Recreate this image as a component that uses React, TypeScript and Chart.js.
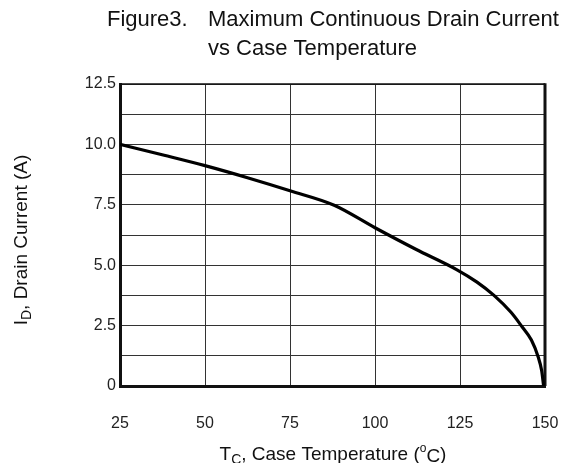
import { useEffect, useRef } from 'react';
import { Chart, registerables } from 'chart.js';

Chart.register(...registerables);

// Data
const caseTemperatureC = [25, 38, 50, 62.5, 75, 88, 100, 112, 124, 130, 135, 140, 143, 146, 148, 149, 149.6];
const drainCurrentA = [10.0, 9.55, 9.12, 8.62, 8.08, 7.48, 6.55, 5.66, 4.82, 4.3, 3.75, 3.05, 2.5, 1.9, 1.2, 0.65, 0];

const xTickValues = [25, 50, 75, 100, 125, 150];
const yTickValues = [0, 2.5, 5, 7.5, 10, 12.5];
const yTickLabels = ['0', '2.5', '5.0', '7.5', '10.0', '12.5'];

const FONT = "'Liberation Sans', Arial, sans-serif";

type Seg = { t: string; size: number; dy: number };

function drawRich(ctx: CanvasRenderingContext2D, segs: Seg[], x: number, y: number) {
  let cx = x;
  for (const s of segs) {
    ctx.font = `${s.size}px ${FONT}`;
    ctx.fillText(s.t, cx, y + s.dy);
    cx += ctx.measureText(s.t).width;
  }
}
function richWidth(ctx: CanvasRenderingContext2D, segs: Seg[]) {
  let w = 0;
  for (const s of segs) {
    ctx.font = `${s.size}px ${FONT}`;
    w += ctx.measureText(s.t).width;
  }
  return w;
}

const decorPlugin = {
  id: 'decor',
  beforeDatasetsDraw(chart: any) {
    const { ctx, chartArea: a } = chart;
    ctx.save();
    ctx.strokeStyle = '#111';
    ctx.lineWidth = 1.5;
    ctx.beginPath();
    ctx.moveTo(a.left, a.top);
    ctx.lineTo(a.right, a.top);
    ctx.stroke();
    ctx.lineWidth = 3;
    ctx.beginPath();
    ctx.moveTo(a.right, a.top - 0.75);
    ctx.lineTo(a.right, a.bottom);
    ctx.stroke();
    ctx.restore();
  },
  afterDraw(chart: any) {
    const { ctx } = chart;
    ctx.save();
    ctx.fillStyle = '#111';
    ctx.textBaseline = 'alphabetic';
    ctx.textAlign = 'left';
    // Title
    ctx.font = `22px ${FONT}`;
    ctx.fillText('Figure3.', 107, 26);
    ctx.fillText('Maximum Continuous Drain Current', 208, 26);
    ctx.fillText('vs Case Temperature', 208, 55);

    // X axis title
    const xSegs: Seg[] = [
      { t: 'T', size: 19, dy: 0 },
      { t: 'C', size: 14, dy: 4 },
      { t: ', Case Temperature (', size: 19, dy: 0 },
      { t: 'o', size: 12, dy: -8 },
      { t: 'C', size: 19, dy: 2 },
      { t: ')', size: 19, dy: 0 },
    ];
    const xw = richWidth(ctx, xSegs);
    drawRich(ctx, xSegs, 333 - xw / 2, 460);

    // Y axis title
    const ySegs: Seg[] = [
      { t: 'I', size: 19, dy: 0 },
      { t: 'D', size: 14, dy: 4 },
      { t: ', Drain Current (A)', size: 19, dy: 0 },
    ];
    const yw = richWidth(ctx, ySegs);
    ctx.translate(27, 240);
    ctx.rotate(-Math.PI / 2);
    drawRich(ctx, ySegs, -yw / 2, 0);
    ctx.restore();
  },
};

export default function App() {
  const ref = useRef<HTMLCanvasElement | null>(null);
  useEffect(() => {
    if (!ref.current) return;
    const chart = new Chart(ref.current, {
      type: 'line',
      data: {
        datasets: [
          {
            data: caseTemperatureC.map((t, i) => ({ x: t, y: drainCurrentA[i] })),
            borderColor: '#000',
            borderWidth: 3.2,
            pointRadius: 0,
            fill: false,
            cubicInterpolationMode: 'monotone',
          },
        ],
      },
      options: {
        animation: false,
        responsive: false,
        layout: { padding: { top: 84, right: 29, left: 0, bottom: 0 } },
        plugins: { legend: { display: false }, tooltip: { enabled: false }, title: { display: false } },
        scales: {
          x: {
            type: 'linear',
            min: 25,
            max: 150,
            afterBuildTicks: (s: any) => {
              s.ticks = xTickValues.map((v) => ({ value: v }));
            },
            afterFit: (s: any) => {
              s.height = 77;
              s.paddingLeft = 0;
              s.paddingRight = 0;
            },
            grid: { color: '#333', lineWidth: 1, drawTicks: false },
            border: { color: '#111', width: 3 },
            ticks: {
              padding: 28,
              color: '#222',
              font: { family: FONT, size: 16 },
              maxRotation: 0,
              callback: (v: any) => String(v),
            },
          },
          y: {
            type: 'linear',
            min: 0,
            max: 12.5,
            ticks: {
              stepSize: 1.25,
              padding: 4,
              color: '#222',
              font: { family: FONT, size: 16 },
              callback: (v: any) => {
                const idx = yTickValues.findIndex((t) => Math.abs(t - Number(v)) < 1e-6);
                return idx >= 0 ? yTickLabels[idx] : '';
              },
            },
            afterFit: (s: any) => {
              s.width = 120;
              s.paddingTop = 0;
              s.paddingBottom = 0;
            },
            grid: { color: '#333', lineWidth: 1, drawTicks: false },
            border: { color: '#111', width: 3 },
          },
        },
      },
      plugins: [decorPlugin],
    } as any);
    return () => chart.destroy();
  }, []);
  return (
    <div style={{ position: 'fixed', left: 0, top: 0, width: 574, height: 463, background: '#fff' }}>
      <canvas ref={ref} width={574} height={463} style={{ width: 574, height: 463, display: 'block' }} />
    </div>
  );
}
